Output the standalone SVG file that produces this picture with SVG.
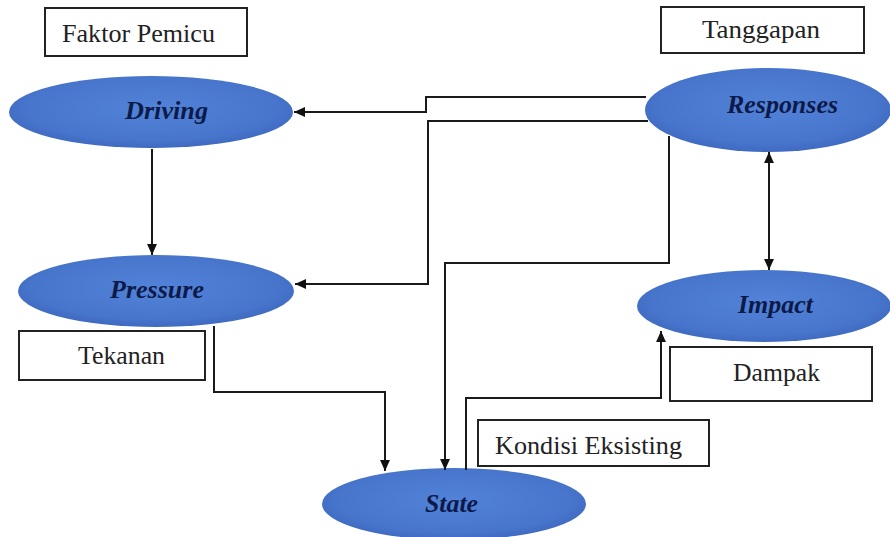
<svg xmlns="http://www.w3.org/2000/svg" width="890" height="537" viewBox="0 0 890 537">
<defs>
<radialGradient id="blue" cx="50%" cy="45%" r="60%">
<stop offset="0" stop-color="#5283d8"/>
<stop offset="0.75" stop-color="#4775cb"/>
<stop offset="1" stop-color="#3a64bb"/>
</radialGradient>
<marker id="ah" viewBox="0 0 10 10" refX="10" refY="5" markerWidth="11" markerHeight="11" markerUnits="userSpaceOnUse" orient="auto-start-reverse">
<path d="M0,0.5 L10,5 L0,9.5 Z" fill="#111"/>
</marker>
<style>
.ell{fill:url(#blue);}
.lbl{font-family:"Liberation Serif","Times New Roman",serif;font-weight:bold;font-style:italic;font-size:26px;fill:#0c1a4a;text-anchor:middle;}
.box{fill:#fff;stroke:#222;stroke-width:2;}
.btxt{font-family:"Liberation Serif","Times New Roman",serif;font-size:25px;fill:#222;}
.con{fill:none;stroke:#1a1a1a;stroke-width:2;}
</style>
</defs>
<rect width="890" height="537" fill="#fff"/>

<g id="driving">
<ellipse class="ell" cx="151" cy="112" rx="142" ry="36"/>
<text class="lbl" x="166.5" y="119" textLength="83" lengthAdjust="spacingAndGlyphs">Driving</text>
</g>
<g id="pressure">
<ellipse class="ell" cx="156" cy="291" rx="138" ry="36"/>
<text class="lbl" x="157" y="298" textLength="94" lengthAdjust="spacingAndGlyphs">Pressure</text>
</g>
<g id="responses">
<ellipse class="ell" cx="768" cy="110" rx="123" ry="42"/>
<text class="lbl" x="782.5" y="113" textLength="111" lengthAdjust="spacingAndGlyphs">Responses</text>
</g>
<g id="impact">
<ellipse class="ell" cx="764" cy="306" rx="127" ry="36"/>
<text class="lbl" x="775.5" y="313" textLength="75" lengthAdjust="spacingAndGlyphs">Impact</text>
</g>
<g id="state">
<ellipse class="ell" cx="454" cy="504" rx="132" ry="36"/>
<text class="lbl" x="451.5" y="512" textLength="53" lengthAdjust="spacingAndGlyphs">State</text>
</g>

<g id="faktor-pemicu">
<rect class="box" x="45" y="8" width="202" height="48"/>
<text class="btxt" x="62" y="42" textLength="153" lengthAdjust="spacingAndGlyphs">Faktor Pemicu</text>
</g>
<g id="tanggapan">
<rect class="box" x="661" y="7" width="203" height="46"/>
<text class="btxt" x="702" y="38" textLength="118" lengthAdjust="spacingAndGlyphs">Tanggapan</text>
</g>
<g id="tekanan">
<rect class="box" x="19" y="331" width="186" height="49"/>
<text class="btxt" x="78" y="364" textLength="87" lengthAdjust="spacingAndGlyphs">Tekanan</text>
</g>
<g id="dampak">
<rect class="box" x="670" y="347" width="202" height="54"/>
<text class="btxt" x="733" y="381" textLength="87" lengthAdjust="spacingAndGlyphs">Dampak</text>
</g>
<g id="kondisi-eksisting">
<rect class="box" x="478" y="420" width="231" height="46"/>
<text class="btxt" x="495" y="454" textLength="187" lengthAdjust="spacingAndGlyphs">Kondisi Eksisting</text>
</g>

<g id="connectors">
<path class="con" d="M646 97 H426 V112 H294" marker-end="url(#ah)"/>
<path class="con" d="M648 121 H428 V284 H295" marker-end="url(#ah)"/>
<path class="con" d="M152 149 V255" marker-end="url(#ah)"/>
<path class="con" d="M214 326 V392 H385 V471" marker-end="url(#ah)"/>
<path class="con" d="M669 136 V263 H445 V470" marker-end="url(#ah)"/>
<path class="con" d="M466 470 V398 H661 V331" marker-end="url(#ah)"/>
<path class="con" d="M769 152 V270" marker-start="url(#ah)" marker-end="url(#ah)"/>
</g>
</svg>
